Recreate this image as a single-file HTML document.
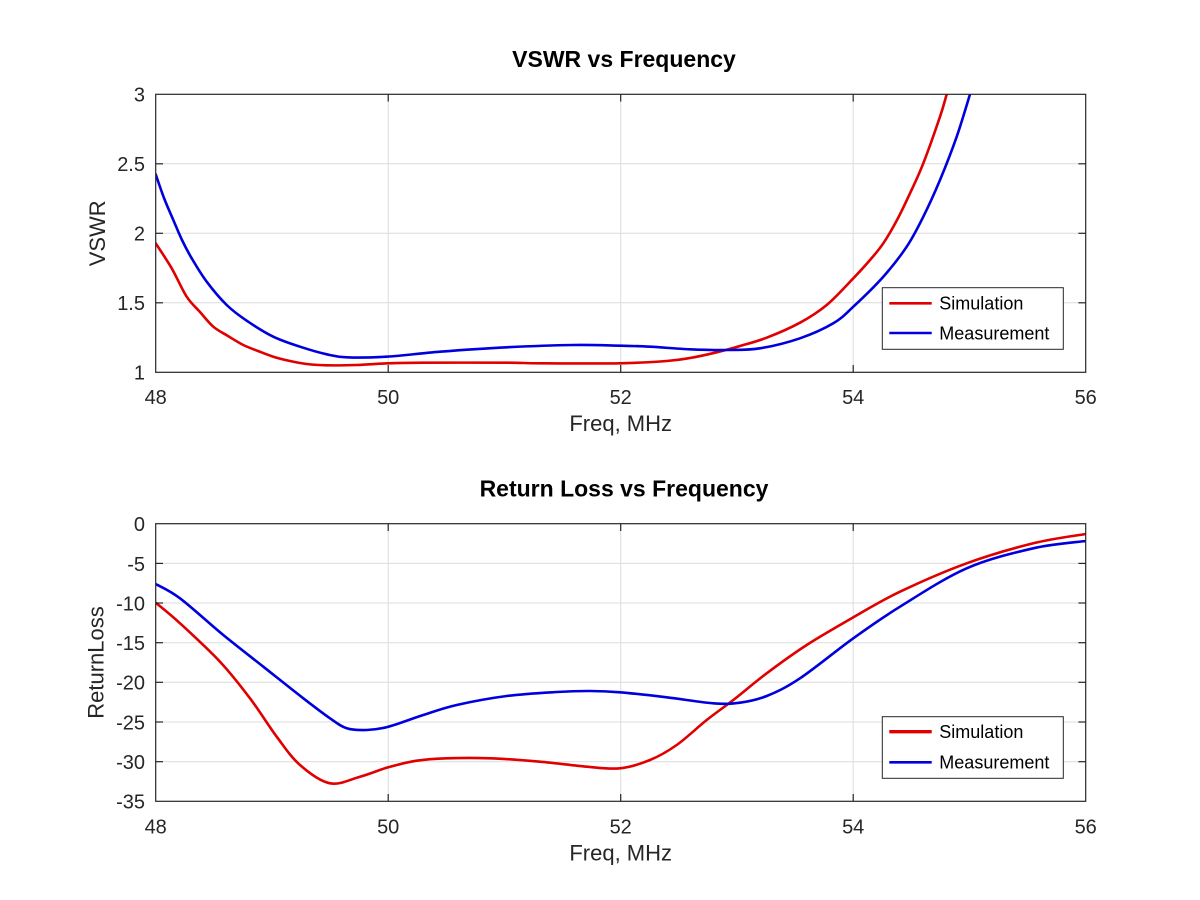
<!DOCTYPE html>
<html><head><meta charset="utf-8"><style>
html,body{margin:0;padding:0;background:#fff;}
svg{display:block;font-family:"Liberation Sans",Arial,sans-serif;}
.tk{font-size:20px;fill:#262626;}
.lb{font-size:22px;fill:#262626;}
.tt{font-size:23px;font-weight:bold;fill:#000;}
.lg{font-size:18px;fill:#000;}
.grid line{stroke:#dcdcdc;stroke-width:1;}
.ax{fill:none;stroke:#262626;stroke-width:1.2;}
.tick line{stroke:#262626;stroke-width:1.2;}
.r{fill:none;stroke:#e00000;stroke-width:2.6;stroke-linejoin:round;stroke-linecap:round;}
.b{fill:none;stroke:#0000dd;stroke-width:2.6;stroke-linejoin:round;stroke-linecap:round;}
</style></head><body>
<svg width="1200" height="900" viewBox="0 0 1200 900" xmlns="http://www.w3.org/2000/svg">
<rect width="1200" height="900" fill="#fff"/>
<defs>
<clipPath id="c1"><rect x="155.7" y="94.3" width="930" height="278"/></clipPath>
<clipPath id="c2"><rect x="155.7" y="523.7" width="930" height="277.6"/></clipPath>
</defs>

<!-- ===== Plot 1 ===== -->
<g class="grid">
<line x1="388.2" y1="94.3" x2="388.2" y2="372.3"/>
<line x1="620.7" y1="94.3" x2="620.7" y2="372.3"/>
<line x1="853.2" y1="94.3" x2="853.2" y2="372.3"/>
<line x1="155.7" y1="163.8" x2="1085.7" y2="163.8"/>
<line x1="155.7" y1="233.3" x2="1085.7" y2="233.3"/>
<line x1="155.7" y1="302.8" x2="1085.7" y2="302.8"/>
</g>
<g clip-path="url(#c1)">
<polyline class="r sm" points="155.7,243.3 171.7,268.3 186.7,296.7 200,312 213.3,326.7 228,336 243.3,345 258,351 273.3,356.7 290,361 306.7,364 326.7,365.3 356.7,365 388.3,363.3 423.3,362.7 506.7,362.7 540,363.3 620,363.3 666.7,361 690,358 716.7,352.3 740,346 766.7,337.7 800,322.7 826.7,305 853.3,278.3 870,260 883.3,243.3 897,220 910,193.3 923.3,163.3 940,116.7 946.7,94.3 950,84"/>
<polyline class="b sm" points="155.7,174.3 164,198 173.3,220 182,240 191.7,258.3 206.7,281.7 226.7,305 246.7,320.7 273.3,336.7 300,346.7 326.7,354.3 346.7,357.3 386.7,356.7 440,351.7 506.7,347.3 573.3,345 620,345.7 650,346.7 690,349.3 726.7,350 760,348.3 800,338.3 833.3,323.3 853.3,306.7 883.3,276.7 906.7,246.7 923.3,216.7 940,180 956.7,136.7 970,94.3 973,84"/>
</g>
<rect class="ax" x="155.7" y="94.3" width="930" height="278"/>
<g class="tick">
<line x1="155.7" y1="163.8" x2="163" y2="163.8"/><line x1="155.7" y1="233.3" x2="163" y2="233.3"/><line x1="155.7" y1="302.8" x2="163" y2="302.8"/>
<line x1="1085.7" y1="163.8" x2="1078.4" y2="163.8"/><line x1="1085.7" y1="233.3" x2="1078.4" y2="233.3"/><line x1="1085.7" y1="302.8" x2="1078.4" y2="302.8"/>
<line x1="388.2" y1="372.3" x2="388.2" y2="365"/><line x1="620.7" y1="372.3" x2="620.7" y2="365"/><line x1="853.2" y1="372.3" x2="853.2" y2="365"/>
<line x1="388.2" y1="94.3" x2="388.2" y2="101.6"/><line x1="620.7" y1="94.3" x2="620.7" y2="101.6"/><line x1="853.2" y1="94.3" x2="853.2" y2="101.6"/>
</g>
<g class="tk" text-anchor="end">
<text x="145" y="101.7">3</text>
<text x="145" y="171.2">2.5</text>
<text x="145" y="240.7">2</text>
<text x="145" y="310.2">1.5</text>
<text x="145" y="379.7">1</text>
</g>
<g class="tk" text-anchor="middle">
<text x="155.7" y="404">48</text>
<text x="388.2" y="404">50</text>
<text x="620.7" y="404">52</text>
<text x="853.2" y="404">54</text>
<text x="1085.7" y="404">56</text>
</g>
<text class="lb" x="620.7" y="431" text-anchor="middle">Freq, MHz</text>
<text class="lb" text-anchor="middle" transform="translate(105,233.3) rotate(-90)">VSWR</text>
<text class="tt" x="624" y="67" text-anchor="middle">VSWR vs Frequency</text>
<rect x="882.3" y="287.7" width="181" height="61.6" fill="#fff" stroke="#262626" stroke-width="1"/>
<line x1="889.3" y1="303.3" x2="931.7" y2="303.3" stroke="#e00000" stroke-width="2.6"/>
<line x1="889.3" y1="333" x2="931.7" y2="333" stroke="#0000dd" stroke-width="2.6"/>
<text class="lg" x="939.3" y="309.6">Simulation</text>
<text class="lg" x="939.3" y="339.3">Measurement</text>

<!-- ===== Plot 2 ===== -->
<g class="grid">
<line x1="388.2" y1="523.7" x2="388.2" y2="801.3"/>
<line x1="620.7" y1="523.7" x2="620.7" y2="801.3"/>
<line x1="853.2" y1="523.7" x2="853.2" y2="801.3"/>
<line x1="155.7" y1="563.4" x2="1085.7" y2="563.4"/>
<line x1="155.7" y1="603.0" x2="1085.7" y2="603.0"/>
<line x1="155.7" y1="642.7" x2="1085.7" y2="642.7"/>
<line x1="155.7" y1="682.3" x2="1085.7" y2="682.3"/>
<line x1="155.7" y1="722.0" x2="1085.7" y2="722.0"/>
<line x1="155.7" y1="761.7" x2="1085.7" y2="761.7"/>
</g>
<g clip-path="url(#c2)">
<polyline class="r sm" points="155.7,602.7 180,623.3 220,661.7 250,698.3 276.7,736.7 300,765 330,783.3 360,776.7 388.3,767.3 416.7,760.7 446.7,758.3 490,758.3 540,761.7 586.7,766.7 620,768.3 650,760 676.7,745 706.7,720 733.3,700 766.7,673.3 806.7,645 853.3,617.3 900,591.7 966.7,563.3 1033.3,543.3 1085.7,534"/>
<polyline class="b sm" points="155.7,584 180,598.3 223.3,635 263.3,666.7 303.3,698.3 330,718.3 346.7,728.3 366.7,730 388.3,726.7 423.3,715 456.7,705 506.7,696 556.7,692 590,691 620,692.3 666.7,697.3 713.3,703.3 740,702.7 766.7,696 800,678.3 853.3,638.3 900,606.7 966.7,568.3 1033.3,548.3 1085.7,541"/>
</g>
<rect class="ax" x="155.7" y="523.7" width="930" height="277.6"/>
<g class="tick">
<line x1="155.7" y1="563.4" x2="163" y2="563.4"/><line x1="155.7" y1="603.0" x2="163" y2="603.0"/><line x1="155.7" y1="642.7" x2="163" y2="642.7"/><line x1="155.7" y1="682.3" x2="163" y2="682.3"/><line x1="155.7" y1="722.0" x2="163" y2="722.0"/><line x1="155.7" y1="761.7" x2="163" y2="761.7"/>
<line x1="1085.7" y1="563.4" x2="1078.4" y2="563.4"/><line x1="1085.7" y1="603.0" x2="1078.4" y2="603.0"/><line x1="1085.7" y1="642.7" x2="1078.4" y2="642.7"/><line x1="1085.7" y1="682.3" x2="1078.4" y2="682.3"/><line x1="1085.7" y1="722.0" x2="1078.4" y2="722.0"/><line x1="1085.7" y1="761.7" x2="1078.4" y2="761.7"/>
<line x1="388.2" y1="801.3" x2="388.2" y2="794"/><line x1="620.7" y1="801.3" x2="620.7" y2="794"/><line x1="853.2" y1="801.3" x2="853.2" y2="794"/>
<line x1="388.2" y1="523.7" x2="388.2" y2="531"/><line x1="620.7" y1="523.7" x2="620.7" y2="531"/><line x1="853.2" y1="523.7" x2="853.2" y2="531"/>
</g>
<g class="tk" text-anchor="end">
<text x="145" y="531.1">0</text>
<text x="145" y="570.8">-5</text>
<text x="145" y="610.4">-10</text>
<text x="145" y="650.1">-15</text>
<text x="145" y="689.7">-20</text>
<text x="145" y="729.4">-25</text>
<text x="145" y="769.1">-30</text>
<text x="145" y="808.7">-35</text>
</g>
<g class="tk" text-anchor="middle">
<text x="155.7" y="833.4">48</text>
<text x="388.2" y="833.4">50</text>
<text x="620.7" y="833.4">52</text>
<text x="853.2" y="833.4">54</text>
<text x="1085.7" y="833.4">56</text>
</g>
<text class="lb" x="620.7" y="860.4" text-anchor="middle">Freq, MHz</text>
<text class="lb" text-anchor="middle" transform="translate(103.5,662.5) rotate(-90)">ReturnLoss</text>
<text class="tt" x="624" y="496.5" text-anchor="middle">Return Loss vs Frequency</text>
<rect x="882.3" y="716.7" width="181" height="61.6" fill="#fff" stroke="#262626" stroke-width="1"/>
<line x1="889.3" y1="731.7" x2="931.7" y2="731.7" stroke="#e00000" stroke-width="3.4"/>
<line x1="889.3" y1="762.3" x2="931.7" y2="762.3" stroke="#0000dd" stroke-width="2.6"/>
<text class="lg" x="939.3" y="738">Simulation</text>
<text class="lg" x="939.3" y="768.6">Measurement</text>
</svg>
<script>
(function(){
  var NS="http://www.w3.org/2000/svg";
  var pls=document.querySelectorAll("polyline.sm");
  for(var k=0;k<pls.length;k++){
    var pl=pls[k];
    var raw=pl.getAttribute("points").trim().split(/\s+/);
    var p=raw.map(function(s){var a=s.split(",");return [parseFloat(a[0]),parseFloat(a[1])];});
    if(p.length<3) continue;
    var d="M"+p[0][0]+","+p[0][1];
    for(var i=0;i<p.length-1;i++){
      var p0=p[i>0?i-1:i],p1=p[i],p2=p[i+1],p3=p[i+2<p.length?i+2:i+1];
      var c1x=p1[0]+(p2[0]-p0[0])/6,c1y=p1[1]+(p2[1]-p0[1])/6;
      var c2x=p2[0]-(p3[0]-p1[0])/6,c2y=p2[1]-(p3[1]-p1[1])/6;
      d+=" C"+c1x.toFixed(2)+","+c1y.toFixed(2)+" "+c2x.toFixed(2)+","+c2y.toFixed(2)+" "+p2[0]+","+p2[1];
    }
    var path=document.createElementNS(NS,"path");
    path.setAttribute("d",d);
    path.setAttribute("class",pl.getAttribute("class"));
    pl.parentNode.replaceChild(path,pl);
  }
})();
</script>
</body></html>
